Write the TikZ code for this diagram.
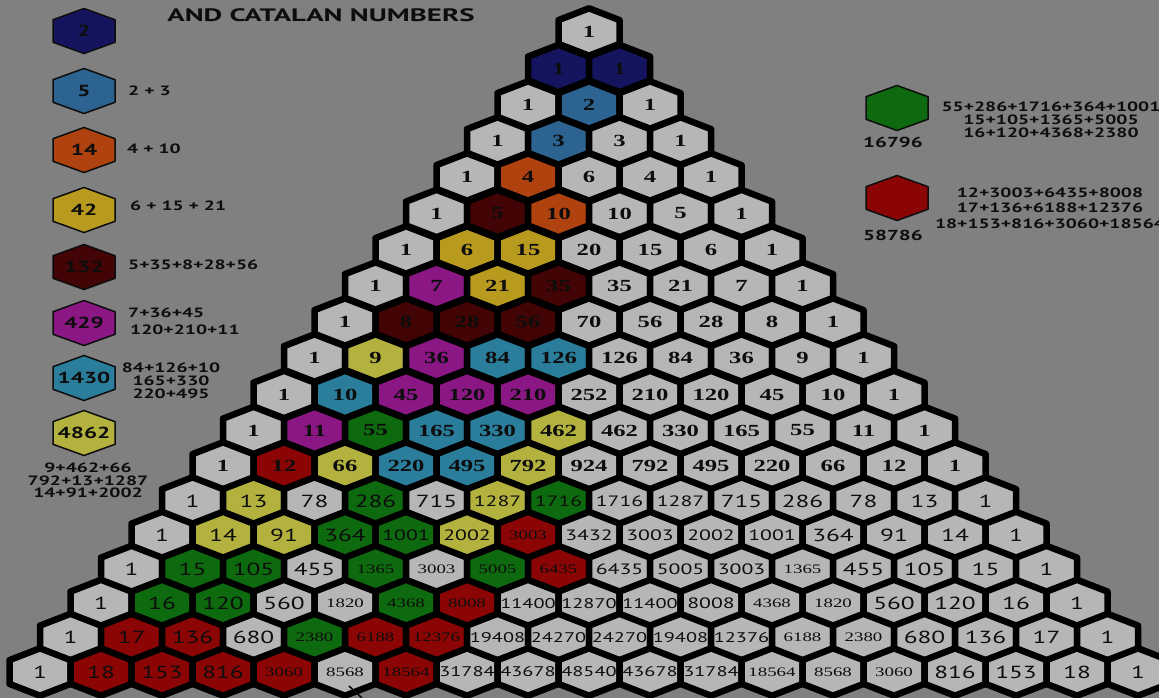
\documentclass[tikz,border=0pt]{standalone}
\usepackage{fontspec}
\newfontfamily\nsr[FakeStretch=1.45]{Liberation Serif}
\newfontfamily\nss[FakeStretch=1.45]{PT Sans}
\newfontfamily\ttl[FakeStretch=1.6]{PT Sans}
\newcommand\fntA{\nsr\bfseries\fontsize{17}{17}\selectfont}
\newcommand\fntB{\nss\fontsize{17.5}{17.5}\selectfont}
\newcommand\fntC{\nss\fontsize{15}{15}\selectfont}
\newcommand\fntD{\nss\fontsize{14}{14}\selectfont}
\newcommand\fntE{\nsr\fontsize{13}{13}\selectfont}
\newcommand\lgfont[1]{\nss\bfseries\fontsize{#1}{#1}\selectfont}
\definecolor{bgc}{HTML}{808080}
\definecolor{cw}{HTML}{B6B6B6}
\definecolor{cn}{HTML}{15155F}
\definecolor{cb}{HTML}{2D6390}
\definecolor{co}{HTML}{B0420F}
\definecolor{cg}{HTML}{B89A1E}
\definecolor{cm}{HTML}{420404}
\definecolor{cp}{HTML}{8A1784}
\definecolor{ct}{HTML}{2A7E9C}
\definecolor{cy}{HTML}{B4B23E}
\definecolor{ce}{HTML}{0E6A0E}
\definecolor{cr}{HTML}{8C0505}
\definecolor{ink}{HTML}{0D0D0D}
\pgfdeclarelayer{fg}
\pgfsetlayers{main,fg}
\tikzset{
  pics/hexc/.style={code={\draw[line width=6.5pt,line join=round,draw=black,fill=#1]
    (0,-23.7)--(30.5,-11.9)--(30.5,11.9)--(0,23.7)--(-30.5,11.9)--(-30.5,-11.9)--cycle;}},
  pics/hexl/.style={code={\draw[line width=1.5pt,line join=round,draw=ink,fill=#1]
    (0,-22.5)--(31,-11.3)--(31,11.3)--(0,22.5)--(-31,11.3)--(-31,-11.3)--cycle;}},
  cellt/.style={inner sep=0pt,text=ink},
  lgt/.style={inner sep=0pt,text=ink,font=\lgfont{13.5}},
  lgh/.style={inner sep=0pt,text=ink,font=\lgfont{16}}
}
\newcommand\hexrow[3]{%
  \foreach \t/\c/\f [count=\k from 0] in {#3}{%
    \pgfmathsetmacro\xx{589+(\k-#1/2)*61}%
    \path (\xx,#2) pic{hexc=c\c};%
    \begin{pgfonlayer}{fg}%
    \node[cellt,font=\csname fnt\f\endcsname] (c-#1-\k) at (\xx,#2) {\t};%
    \end{pgfonlayer}}}
\begin{document}
\begin{tikzpicture}[x=1pt,y=-1pt]
\useasboundingbox (0,0) rectangle (1159,698);
\clip (0,0) rectangle (1159,698);
\fill[bgc] (0,0) rectangle (1159,698);

\hexrow{0}{32}{1/w/A}
\hexrow{1}{68.5}{1/n/A,1/n/A}
\hexrow{2}{105}{1/w/A,2/b/A,1/w/A}
\hexrow{3}{141}{1/w/A,3/b/A,3/w/A,1/w/A}
\hexrow{4}{177}{1/w/A,4/o/A,6/w/A,4/w/A,1/w/A}
\hexrow{5}{213.5}{1/w/A,5/m/A,10/o/A,10/w/A,5/w/A,1/w/A}
\hexrow{6}{250}{1/w/A,6/g/A,15/g/A,20/w/A,15/w/A,6/w/A,1/w/A}
\hexrow{7}{286}{1/w/A,7/p/A,21/g/A,35/m/A,35/w/A,21/w/A,7/w/A,1/w/A}
\hexrow{8}{322}{1/w/A,8/m/A,28/m/A,56/m/A,70/w/A,56/w/A,28/w/A,8/w/A,1/w/A}
\hexrow{9}{358}{1/w/A,9/y/A,36/p/A,84/t/A,126/t/A,126/w/A,84/w/A,36/w/A,9/w/A,1/w/A}
\hexrow{10}{394.5}{1/w/A,10/t/A,45/p/A,120/p/A,210/p/A,252/w/A,210/w/A,120/w/A,45/w/A,10/w/A,1/w/A}
\hexrow{11}{430.5}{1/w/A,11/p/A,55/e/A,165/t/A,330/t/A,462/y/A,462/w/A,330/w/A,165/w/A,55/w/A,11/w/A,1/w/A}
\hexrow{12}{466}{1/w/A,12/r/A,66/y/A,220/t/A,495/t/A,792/y/A,924/w/A,792/w/A,495/w/A,220/w/A,66/w/A,12/w/A,1/w/A}
\hexrow{13}{501}{1/w/B,13/y/B,78/w/B,286/e/B,715/w/B,1287/y/C,1716/e/C,1716/w/C,1287/w/C,715/w/B,286/w/B,78/w/B,13/w/B,1/w/B}
\hexrow{14}{535.5}{1/w/B,14/y/B,91/y/B,364/e/B,1001/e/C,2002/y/C,3003/r/E,3432/w/C,3003/w/C,2002/w/C,1001/w/C,364/w/B,91/w/B,14/w/B,1/w/B}
\hexrow{15}{569.5}{1/w/B,15/e/B,105/e/B,455/w/B,1365/e/E,3003/w/E,5005/e/E,6435/r/E,6435/w/C,5005/w/C,3003/w/C,1365/w/E,455/w/B,105/w/B,15/w/B,1/w/B}
\hexrow{16}{603.5}{1/w/B,16/e/B,120/e/B,560/w/B,1820/w/E,4368/e/E,8008/r/E,11400/w/D,12870/w/D,11400/w/D,8008/w/C,4368/w/E,1820/w/E,560/w/B,120/w/B,16/w/B,1/w/B}
\hexrow{17}{637.5}{1/w/B,17/r/B,136/r/B,680/w/B,2380/e/E,6188/r/E,12376/r/E,19408/w/D,24270/w/D,24270/w/D,19408/w/D,12376/w/D,6188/w/E,2380/w/E,680/w/B,136/w/B,17/w/B,1/w/B}
\hexrow{18}{672}{1/w/B,18/r/B,153/r/B,816/r/B,3060/r/E,8568/w/E,18564/r/E,31784/w/D,43678/w/D,48540/w/D,43678/w/D,31784/w/D,18564/w/E,8568/w/E,3060/w/E,816/w/B,153/w/B,18/w/B,1/w/B}

% small pointer mark at the bottom
\coordinate (mk1) at (349,686);
\coordinate (mk2) at (362,698);
\draw[line width=1.6pt,draw=ink] (mk1) -- (mk2);

% title
\node[inner sep=0pt,text=ink,font=\ttl\bfseries\fontsize{18}{18}\selectfont] (title) at (321,15) {AND CATALAN NUMBERS};

% left legend
\path (84,31) pic{hexl=cn};
\path (84,91) pic{hexl=cb};
\path (84,150) pic{hexl=co};
\path (84,210) pic{hexl=cg};
\path (84,267) pic{hexl=cm};
\path (84,323) pic{hexl=cp};
\path (84,378) pic{hexl=ct};
\path (84,433) pic{hexl=cy};
\node[lgh] (h2) at (84,31) {2};
\node[lgh] (h5) at (84,91) {5};
\node[lgh] (h14) at (84,150) {14};
\node[lgh] (h42) at (84,210) {42};
\node[lgh] (h132) at (84,267) {132};
\node[lgh] (h429) at (84,323) {429};
\node[lgh] (h1430) at (84,378) {1430};
\node[lgh] (h4862) at (84,433) {4862};
\node[lgt,anchor=west] (s5) at (128,91) {2 + 3};
\node[lgt,anchor=west] (s14) at (127,149) {4 + 10};
\node[lgt,anchor=west] (s42) at (130,206) {6 + 15 + 21};
\node[lgt,anchor=west] (s132) at (128,265) {5+35+8+28+56};
\node[lgt,anchor=west] (s429a) at (128,313) {7+36+45};
\node[lgt,anchor=west] (s429b) at (130,330) {120+210+11};
\node[lgt,align=center,font=\nss\bfseries\fontsize{13.5}{13}\selectfont] (s1430) at (171,381) {84+126+10\\165+330\\220+495};
\node[lgt,align=center,font=\nss\bfseries\fontsize{13.5}{12.5}\selectfont] (s4862) at (88,480.5) {9+462+66\\792+13+1287\\14+91+2002};

% right legend
\path (897,108) pic{hexl=ce};
\path (897,198) pic{hexl=cr};
\node[inner sep=0pt,text=ink,font=\lgfont{14.5}] (n16796) at (893,142) {16796};
\node[inner sep=0pt,text=ink,font=\lgfont{14.5}] (n58786) at (893,235) {58786};
\node[lgt,align=center,font=\nss\bfseries\fontsize{13.5}{13}\selectfont] (s16796) at (1051,120) {55+286+1716+364+1001\\15+105+1365+5005\\16+120+4368+2380};
\node[lgt,align=center,font=\nss\bfseries\fontsize{13.5}{15.5}\selectfont] (s58786) at (1050,208) {12+3003+6435+8008\\17+136+6188+12376\\18+153+816+3060+18564};
\end{tikzpicture}
\end{document}
